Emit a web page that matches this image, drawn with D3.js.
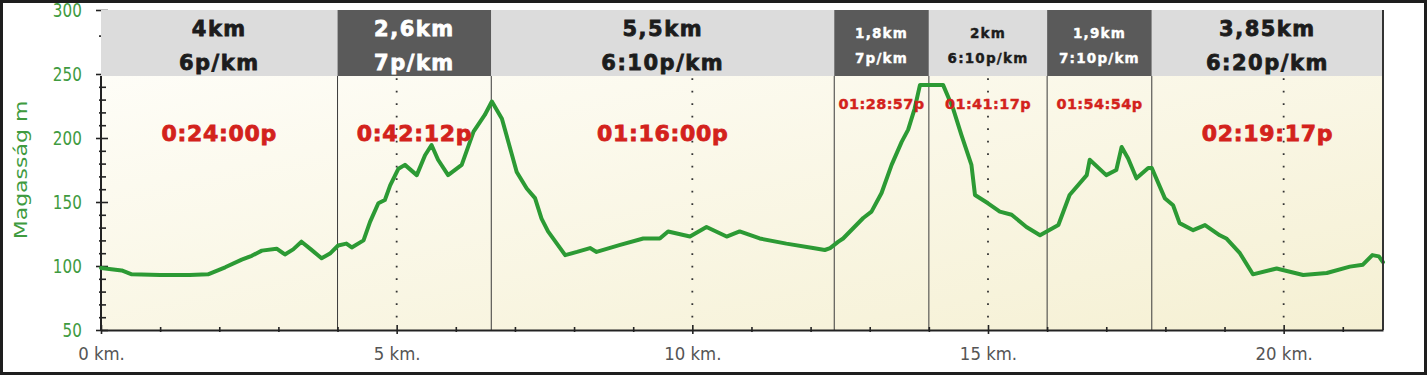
<!DOCTYPE html>
<html>
<head>
<meta charset="utf-8">
<script src="https://cdn.jsdelivr.net/npm/d3@7"></script>
<style>
  body { margin: 0; background: #fff; }
  svg { display: block; }
</style>
</head>
<body>
<svg id="chart" width="1427" height="375"></svg>
<script>
// elevation profile
const distKm = [0, 0.35, 0.52, 1.0, 1.5, 1.81, 2.1, 2.38, 2.55, 2.72, 2.97, 3.11, 3.25, 3.39, 3.55, 3.73,
  3.88, 4.01, 4.15, 4.24, 4.44, 4.55, 4.69, 4.8, 4.89, 5.03, 5.14, 5.34, 5.48, 5.59, 5.7, 5.87,
  6.1, 6.3, 6.49, 6.61, 6.78, 7.03, 7.2, 7.34, 7.45, 7.56, 7.85, 8.05, 8.27, 8.38, 8.78, 9.17,
  9.45, 9.59, 9.96, 10.24, 10.58, 10.8, 11.14, 11.59, 12.04, 12.24, 12.33, 12.47, 12.55, 12.89,
  13.03, 13.2, 13.37, 13.54, 13.65, 13.76, 13.85, 14.24, 14.41, 14.55, 14.72, 14.78, 15.0, 15.2,
  15.4, 15.65, 15.88, 16.19, 16.38, 16.67, 16.72, 17.0, 17.17, 17.26, 17.37, 17.51, 17.71, 17.77,
  17.99, 18.13, 18.24, 18.47, 18.67, 18.92, 19.03, 19.26, 19.48, 19.88, 20.33, 20.73, 21.12, 21.34,
  21.5, 21.61, 21.68];
const elevM = [98.5, 96.5, 93.5, 93, 93, 93.5, 99, 105, 108, 112, 113.5, 109, 113, 119, 113, 106,
  110, 116, 117.5, 114.5, 120, 134.5, 149, 151.5, 163, 176, 179, 171, 186.5, 194.5, 183, 171,
  179, 205, 218, 228.5, 215, 173.5, 160.5, 153, 137, 127, 108.5, 111, 114, 111, 116.5, 121.5,
  121.5, 127, 123, 130.5, 123, 127, 121.5, 117.5, 114, 112.5, 114, 119, 121.5, 137.5,
  142.5, 157, 179, 197, 206.5, 223, 241.5, 241.5, 223, 202.5, 179, 155.5, 149, 142.5,
  140, 130.5, 124, 132, 155.5, 171, 183, 171, 175, 193, 184, 168.5, 176.5, 176.5,
  153, 147.5, 133.5, 128, 132, 124, 121.5, 110, 93.5, 98, 93, 94.5, 99.5, 101,
  108.5, 107.5, 103];

// pace segments shown in the header
const segBounds = [0, 4, 6.6, 12.4, 14.0, 16.0, 17.77, 21.68];
const segDist = ['4km', '2,6km', '5,5km', '1,8km', '2km', '1,9km', '3,85km'];
const segPace = ['6p/km', '7p/km', '6:10p/km', '7p/km', '6:10p/km', '7:10p/km', '6:20p/km'];
const segTime = ['0:24:00p', '0:42:12p', '01:16:00p', '01:28:57p', '01:41:17p', '01:54:54p', '02:19:17p'];
const segDark = [false, true, false, true, false, true, false];
const segSmall = [false, false, false, true, true, true, false];

const xTicks = d3.range(0, 22);
const yTicks = d3.range(50, 251, 10).concat([280, 300]);
const gridKm = [5, 10, 15, 20];

const svg = d3.select('#chart');
const x = d3.scaleLinear().domain([0, 21.68]).range([101, 1383]);
const y = d3.scaleLinear().domain([50, 300]).range([330, 10]);
const headTop = y(300);
const headBottom = 76;

// outer frame
svg.append('rect')
  .attr('x', 1.5).attr('y', 1.5).attr('width', 1424).attr('height', 372)
  .attr('fill', '#fff').attr('stroke', '#1e1e1e').attr('stroke-width', 3);

const defs = svg.append('defs');
const grad = defs.append('linearGradient').attr('id', 'bg')
  .attr('x1', 0).attr('y1', 0).attr('x2', 1).attr('y2', 1);
grad.append('stop').attr('offset', 0).attr('stop-color', '#fefdf7');
grad.append('stop').attr('offset', 1).attr('stop-color', '#f5f0d3');

svg.append('rect')
  .attr('x', x(0)).attr('y', headBottom)
  .attr('width', x(21.68) - x(0)).attr('height', y(50) - headBottom)
  .attr('fill', 'url(#bg)');

// y axis (ticks only, line drawn below the header)
const yAxis = svg.append('g')
  .attr('transform', `translate(${x(0)},0)`)
  .call(d3.axisLeft(y).tickValues(yTicks).tickSizeOuter(0)
    .tickFormat(d => d % 50 === 0 ? d : ''));
yAxis.select('.domain').remove();
yAxis.selectAll('.tick line')
  .attr('x1', d => d % 50 === 0 ? -5 : -2)
  .attr('x2', d => d % 50 === 0 ? 7 : 5)
  .attr('stroke', '#222').attr('stroke-width', 1.6);
yAxis.selectAll('.tick text')
  .attr('x', -24).attr('dy', '0.36em')
  .attr('transform', 'scale(0.8,1)')
  .attr('font-family', 'DejaVu Sans').attr('font-size', 19)
  .attr('fill', '#3f9b3f');

svg.append('line')
  .attr('x1', x(0)).attr('x2', x(0))
  .attr('y1', headBottom).attr('y2', y(50))
  .attr('stroke', '#222').attr('stroke-width', 2);

svg.append('text')
  .attr('transform', `translate(27,170) scale(0.78,1) rotate(-90)`)
  .attr('text-anchor', 'middle')
  .attr('font-family', 'DejaVu Sans').attr('font-size', 22)
  .attr('fill', '#3f9b3f')
  .text('Magasság m');

// dotted grid at every 5 km
svg.append('g').selectAll('line').data(gridKm).join('line')
  .attr('x1', d => x(d)).attr('x2', d => x(d))
  .attr('y1', y(50) - 12.5).attr('y2', headBottom)
  .attr('stroke', '#333').attr('stroke-width', 1.8)
  .attr('stroke-dasharray', '1.8 10.7');

// segment separators
svg.append('g').selectAll('line').data(segBounds.slice(1, -1)).join('line')
  .attr('x1', d => x(d)).attr('x2', d => x(d))
  .attr('y1', headBottom).attr('y2', y(50))
  .attr('stroke', '#3a3a3a').attr('stroke-width', 1);

// elevation line
const pts = distKm.map((d, i) => [d, elevM[i]]);
svg.append('path')
  .datum(pts)
  .attr('fill', 'none')
  .attr('stroke', '#2c9a34')
  .attr('stroke-width', 4)
  .attr('stroke-linejoin', 'round')
  .attr('stroke-linecap', 'round')
  .attr('d', d3.line().x(d => x(d[0])).y(d => y(d[1])));

// header boxes
const segs = segDist.map((d, i) => ({
  x0: segBounds[i], x1: segBounds[i + 1], dist: d, pace: segPace[i],
  time: segTime[i], dark: segDark[i], small: segSmall[i]
}));
const head = svg.append('g').selectAll('g').data(segs).join('g');
head.append('rect')
  .attr('x', d => x(d.x0)).attr('y', headTop)
  .attr('width', d => x(d.x1) - x(d.x0)).attr('height', headBottom - headTop)
  .attr('fill', d => d.dark ? '#5a5a5a' : '#dcdcdc');
head.append('text')
  .attr('x', d => (x(d.x0) + x(d.x1)) / 2)
  .attr('y', d => d.small ? 38 : 36)
  .text(d => d.dist);
head.append('text')
  .attr('x', d => (x(d.x0) + x(d.x1)) / 2)
  .attr('y', d => d.small ? 63 : 70)
  .text(d => d.pace);
head.selectAll('text')
  .attr('text-anchor', 'middle')
  .attr('font-family', 'DejaVu Sans').attr('font-weight', 'bold')
  .attr('font-size', d => d.small ? 13.5 : 21)
  .attr('letter-spacing', d => d.small ? 1.2 : 1.5)
  .attr('fill', d => d.dark ? '#fff' : '#1c1c1c')
  .attr('stroke', d => d.dark ? '#fff' : '#1c1c1c')
  .attr('stroke-width', d => d.small ? 0.4 : 0.8);

// split times
svg.append('g').selectAll('text').data(segs).join('text')
  .attr('x', d => (x(d.x0) + x(d.x1)) / 2)
  .attr('y', d => d.small ? 109 : 141)
  .attr('text-anchor', 'middle')
  .attr('font-family', 'DejaVu Sans').attr('font-weight', 'bold')
  .attr('font-size', d => d.small ? 14.5 : 22)
  .attr('letter-spacing', d => d.small ? 0.4 : 0.7)
  .attr('fill', '#d3221c')
  .attr('stroke', '#d3221c')
  .attr('stroke-width', d => d.small ? 0.4 : 0.8)
  .text(d => d.time);

// right border
svg.append('line')
  .attr('x1', x(21.68)).attr('x2', x(21.68))
  .attr('y1', headTop).attr('y2', y(50))
  .attr('stroke', '#333').attr('stroke-width', 2);

// x axis
const xAxis = svg.append('g')
  .attr('transform', `translate(0,${y(50)})`)
  .call(d3.axisBottom(x).tickValues(xTicks).tickSizeOuter(0)
    .tickFormat(d => d % 5 === 0 ? `${d} km.` : ''));
xAxis.select('.domain').attr('stroke', '#222').attr('stroke-width', 2);
xAxis.selectAll('.tick line')
  .attr('y1', d => d % 5 === 0 ? -5 : -3)
  .attr('y2', d => d % 5 === 0 ? 4 : 2)
  .attr('stroke', '#222').attr('stroke-width', 1.6);
xAxis.selectAll('.tick text')
  .attr('y', 17).attr('dy', '0.71em')
  .attr('transform', 'scale(0.92,1)')
  .attr('font-family', 'DejaVu Sans').attr('font-size', 18)
  .attr('fill', '#555');
</script>
</body>
</html>
